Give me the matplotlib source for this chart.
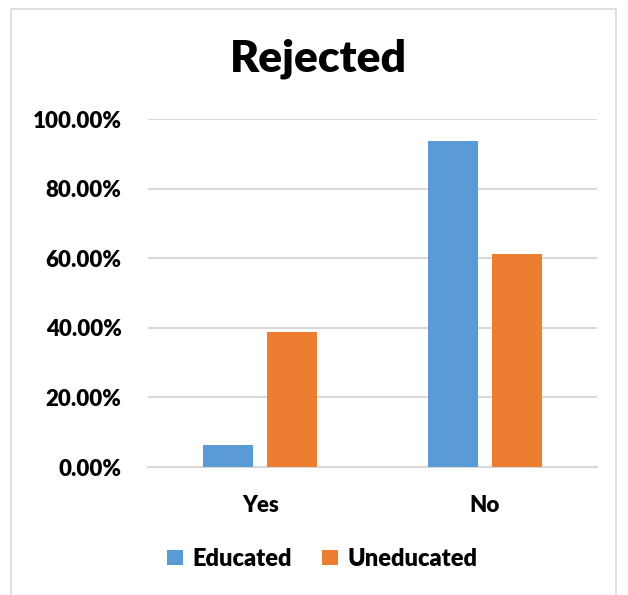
import matplotlib.pyplot as plt
import numpy as np
from matplotlib.patches import Rectangle
from matplotlib.ticker import FuncFormatter

categories = ["Yes", "No"]
educated = [0.0625, 0.9375]
uneducated = [0.3889, 0.6111]
series_names = ["Educated", "Uneducated"]

plt.rcParams['font.family'] = ['Lato', 'DejaVu Sans']

fig = plt.figure(figsize=(6.28, 5.95), dpi=100)
ax = fig.add_axes([0.2357, 0.2151, 0.7149, 0.5849])

# chart border
fig.patches.append(Rectangle((11 / 628, -0.01), 605 / 628, 1 - 9 / 595 + 0.01,
                             transform=fig.transFigure, fill=False,
                             edgecolor='#d9d9d9', linewidth=1.2))

x = np.arange(len(categories))
w = 0.223
off = 0.143
ax.bar(x - off, educated, w, color='#5B9BD5', label=series_names[0], zorder=3)
ax.bar(x + off, uneducated, w, color='#ED7D31', label=series_names[1], zorder=3)

ax.set_xlim(-0.5, 1.5)
ax.set_ylim(0, 1.0)
ax.set_yticks(np.arange(0, 1.01, 0.2))
ax.yaxis.set_major_formatter(FuncFormatter(lambda v, p: "%.2f%%" % (v * 100)))
ax.set_xticks(x)
ax.set_xticklabels(categories, fontsize=16, fontweight='heavy')
ax.set_yticklabels(["%.2f%%" % (v * 100) for v in np.arange(0, 1.01, 0.2)],
                   fontsize=16, fontweight='heavy')
ax.grid(axis='y', color='#d9d9d9', linewidth=1.5, zorder=0)
for s in ['top', 'right', 'left']:
    ax.spines[s].set_visible(False)
ax.spines['bottom'].set_color('#d9d9d9')
ax.spines['bottom'].set_linewidth(1.5)
ax.tick_params(axis='both', length=0)
ax.tick_params(axis='y', pad=19)
ax.tick_params(axis='x', pad=20)

fig.text(0.507, 0.902, "Rejected", ha='center', va='center',
         fontsize=32, fontweight='heavy')

leg = fig.legend(loc='center', bbox_to_anchor=(0.513, 0.061), ncol=2,
                 frameon=False, prop={'size': 17, 'weight': 'heavy'},
                 handlelength=0.65, handleheight=0.65, columnspacing=1.3,
                 handletextpad=0.4)
for t in leg.get_texts():
    t.set_fontweight('heavy')

fig.savefig("out.png", dpi=100)
